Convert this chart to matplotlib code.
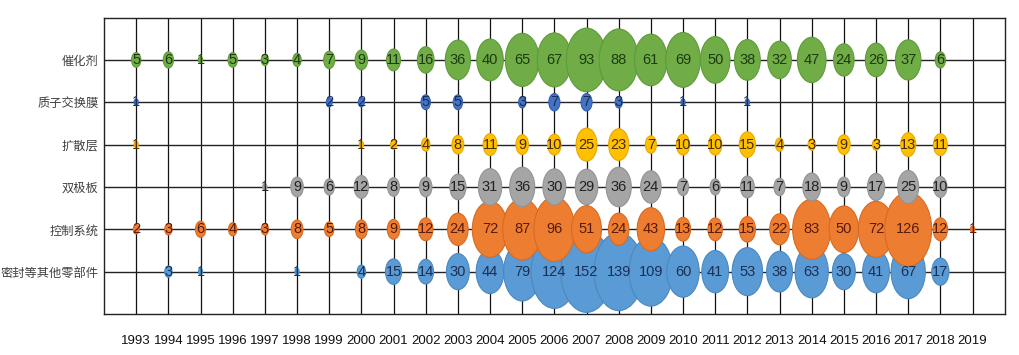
import matplotlib
matplotlib.use("Agg")
import matplotlib.pyplot as plt
from matplotlib.patches import Ellipse
import numpy as np

# ===== data =====
years = list(range(1993, 2020))

rows = ["密封等其他零部件", "控制系统", "双极板", "扩散层", "质子交换膜", "催化剂"]

seal = [None, 3, 1, None, None, 1, None, 4, 15, 14, 30, 44, 79, 124, 152,
        139, 109, 60, 41, 53, 38, 63, 30, 41, 67, 17, None]
control = [2, 3, 6, 4, 3, 8, 5, 8, 9, 12, 24, 72, 87, 96, 51, 24, 43, 13,
           12, 15, 22, 83, 50, 72, 126, 12, 1]
bipolar = [None, None, None, None, 1, 9, 6, 12, 8, 9, 15, 31, 36, 30, 29,
           36, 24, 7, 6, 11, 7, 18, 9, 17, 25, 10, None]
diffusion = [1, None, None, None, None, None, None, 1, 2, 4, 8, 11, 9, 10,
             25, 23, 7, 10, 10, 15, 4, 3, 9, 3, 13, 11, None]
pem = [1, None, None, None, None, None, 2, 2, None, 5, 5, None, 3, 7, 7, 3,
       None, 1, None, 1, None, None, None, None, None, None, None]
catalyst = [5, 6, 1, 5, 3, 4, 7, 9, 11, 16, 36, 40, 65, 67, 93, 88, 61, 69,
            50, 38, 32, 47, 24, 26, 37, 6, None]

series = [seal, control, bipolar, diffusion, pem, catalyst]
fills = ["#5B9BD5", "#ED7D31", "#A5A5A5", "#FFC000", "#4472C4", "#70AD47"]
edges = ["#4a88c0", "#d86a20", "#939393", "#e8a800", "#3560b0", "#5f9a3a"]
text_colors = ["#1b2f55", "#5a1a08", "#222222", "#4a2a00", "#1b2f55", "#1e3a10"]

# bubble size scale (area ~ value), ellipse because the excel chart got stretched
kh = 0.156
kw = 0.13

num_font = ["Liberation Sans", "DejaVu Sans"]

fig = plt.figure(figsize=(10.2, 3.55), dpi=100)
ax = fig.add_axes([0.102, 0.1155, 0.883, 0.835])

# grid
for y in years:
    ax.axvline(y, color="#111111", lw=0.9, zorder=0)
for i in range(len(rows)):
    ax.axhline(i + 1, color="#222222", lw=1.0, zorder=0)

# bubbles
for i, vals in enumerate(series):
    for yr, v in zip(years, vals):
        if v is None:
            continue
        r = np.sqrt(v)
        e = Ellipse((yr, i + 1), kw * r, kh * r, facecolor=fills[i],
                    edgecolor=edges[i], lw=0.8, zorder=2 + i)
        ax.add_patch(e)

# labels on top
for i, vals in enumerate(series):
    for yr, v in zip(years, vals):
        if v is None:
            continue
        ax.text(yr, i + 1, str(v), ha="center", va="center", fontsize=10.5,
                color=text_colors[i], family=num_font, zorder=20)

ax.set_xlim(1992, 2020)
ax.set_ylim(0, 7)
ax.set_xticks(years)
ax.set_xticklabels([str(y) for y in years], family=num_font, fontsize=9.5,
                   color="#111111")
ax.set_yticks(range(1, len(rows) + 1))
ax.set_yticklabels(rows, family=["Noto Sans CJK SC", "DejaVu Sans"],
                   fontsize=8.8, color="#404040")
ax.tick_params(axis="x", length=0, pad=15)
ax.tick_params(axis="y", length=0, pad=4)
for s in ax.spines.values():
    s.set_color("#222222")
    s.set_linewidth(1.0)

fig.savefig("out.png", dpi=100)
